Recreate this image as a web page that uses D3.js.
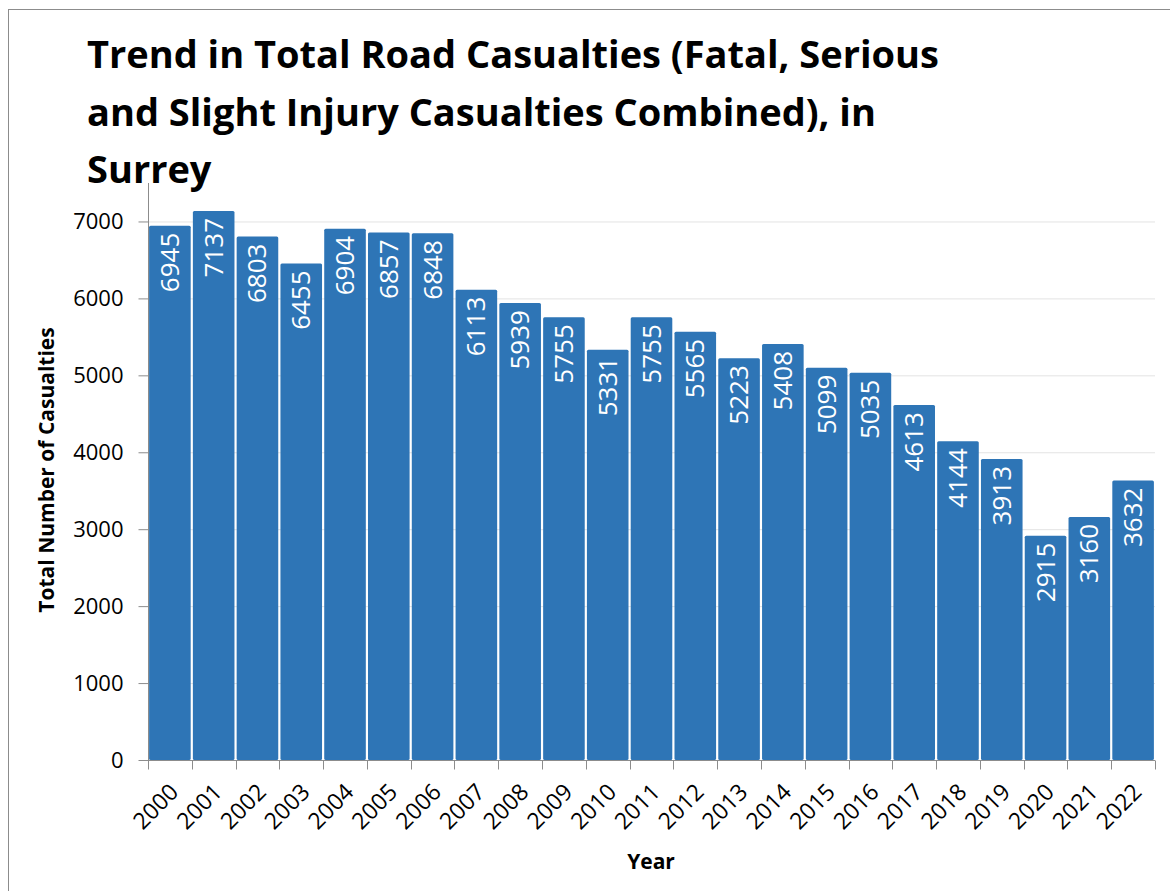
<!DOCTYPE html>
<html>
<head>
<meta charset="utf-8">
<script src="https://cdn.jsdelivr.net/npm/d3@7"></script>
<style>
	body { margin: 0; background: #fff; }
	svg { display: block; }
</style>
</head>
<body>
<svg id="chart" width="1170" height="891"></svg>
<script>
// data
const years = ["2000","2001","2002","2003","2004","2005","2006","2007","2008","2009","2010",
	"2011","2012","2013","2014","2015","2016","2017","2018","2019","2020","2021","2022"];
const casualties = [6945,7137,6803,6455,6904,6857,6848,6113,5939,5755,5331,
	5755,5565,5223,5408,5099,5035,4613,4144,3913,2915,3160,3632];
const yTicks = [0,1000,2000,3000,4000,5000,6000,7000];
const titleLines = ["Trend in Total Road Casualties (Fatal, Serious",
	"and Slight Injury Casualties Combined), in", "Surrey"];

const font = "'Open Sans', sans-serif";
const barColor = "#2e75b6";
const plotLeft = 148, plotRight = 1155, plotTop = 183, plotBottom = 760;

const svg = d3.select("#chart");

// outer frame, runs off the right and bottom edge
svg.append("rect")
	.attr("x", 8.5).attr("y", 9.5)
	.attr("width", 1200).attr("height", 1000)
	.attr("fill", "none").attr("stroke", "#8c8c8c");

const xScale = d3.scaleBand().domain(years)
	.range([plotLeft, plotRight])
	.paddingInner(0.05)
	.paddingOuter(0.025);
const yScale = d3.scaleLinear().domain([0, 7500]).range([plotBottom, plotTop]);

//grid lines
svg.append("g").selectAll("line").data(yTicks.slice(1)).join("line")
	.attr("x1", plotLeft).attr("x2", plotRight)
	.attr("y1", d => yScale(d) + 0.5).attr("y2", d => yScale(d) + 0.5)
	.attr("stroke", "#e3e3e3");

//bars
svg.append("g").selectAll("rect").data(casualties).join("rect")
	.attr("x", (d, i) => xScale(years[i]))
	.attr("y", d => yScale(d))
	.attr("width", xScale.bandwidth())
	.attr("height", d => yScale(0) - yScale(d))
	.attr("rx", 1.5)
	.attr("fill", barColor);

//value labels, rotated inside bar tops
svg.append("g").selectAll("text").data(casualties).join("text")
	.attr("transform", (d, i) => "translate(" + [xScale(years[i]) + xScale.bandwidth() / 2 + 9, yScale(d) + 7] + ") rotate(-90)")
	.attr("text-anchor", "end")
	.attr("fill", "#fff")
	.style("font-family", font)
	.style("font-size", "26px")
	.text(d => d);

//y axis
const yAxis = svg.append("g").attr("class", "yAxis")
	.attr("transform", "translate(" + [plotLeft + 0.5, 0] + ")")
	.call(d3.axisLeft(yScale).tickValues(yTicks).tickFormat(d3.format("d"))
		.tickSize(10).tickPadding(15).tickSizeOuter(0));
yAxis.select(".domain").attr("stroke", "#8c8c8c").attr("d", "M0," + plotTop + "V" + plotBottom);
yAxis.selectAll(".tick line").attr("stroke", "#8c8c8c");
yAxis.selectAll(".tick text")
	.style("font-family", font).style("font-size", "22px").attr("fill", "#000");

//x axis, ticks sit on band boundaries
const xAxis = svg.append("g").attr("class", "xAxis")
	.attr("transform", "translate(" + [0, plotBottom + 0.5] + ")");
xAxis.append("line").attr("x1", plotLeft).attr("x2", plotRight).attr("stroke", "#8c8c8c");
const edges = years.map(y => xScale(y) - xScale.step() * xScale.paddingInner() / 2);
edges.push(plotRight);
xAxis.selectAll(".edge").data(edges).join("line").attr("class", "edge")
	.attr("x1", d => Math.round(d) + 0.5).attr("x2", d => Math.round(d) + 0.5)
	.attr("y1", 0).attr("y2", 9)
	.attr("stroke", "#8c8c8c");
xAxis.selectAll("text").data(years).join("text")
	.attr("transform", d => "translate(" + [xScale(d) + xScale.bandwidth() / 2 + 10, 33] + ") rotate(-45)")
	.attr("text-anchor", "end")
	.style("font-family", font).style("font-size", "23px")
	.text(d => d);

//axis titles
svg.append("text")
	.attr("transform", "translate(" + [54, 470] + ") rotate(-90)")
	.attr("text-anchor", "middle")
	.style("font-family", font).style("font-size", "21px").style("font-weight", "bold")
	.text("Total Number of Casualties");
svg.append("text")
	.attr("x", 651).attr("y", 869)
	.attr("text-anchor", "middle")
	.style("font-family", font).style("font-size", "21px").style("font-weight", "bold")
	.text("Year");

//title
svg.append("g").selectAll("text").data(titleLines).join("text")
	.attr("x", 87).attr("y", (d, i) => 68 + i * 57.5)
	.style("font-family", font).style("font-size", "38px").style("font-weight", "bold")
	.text(d => d);
</script>
</body>
</html>
